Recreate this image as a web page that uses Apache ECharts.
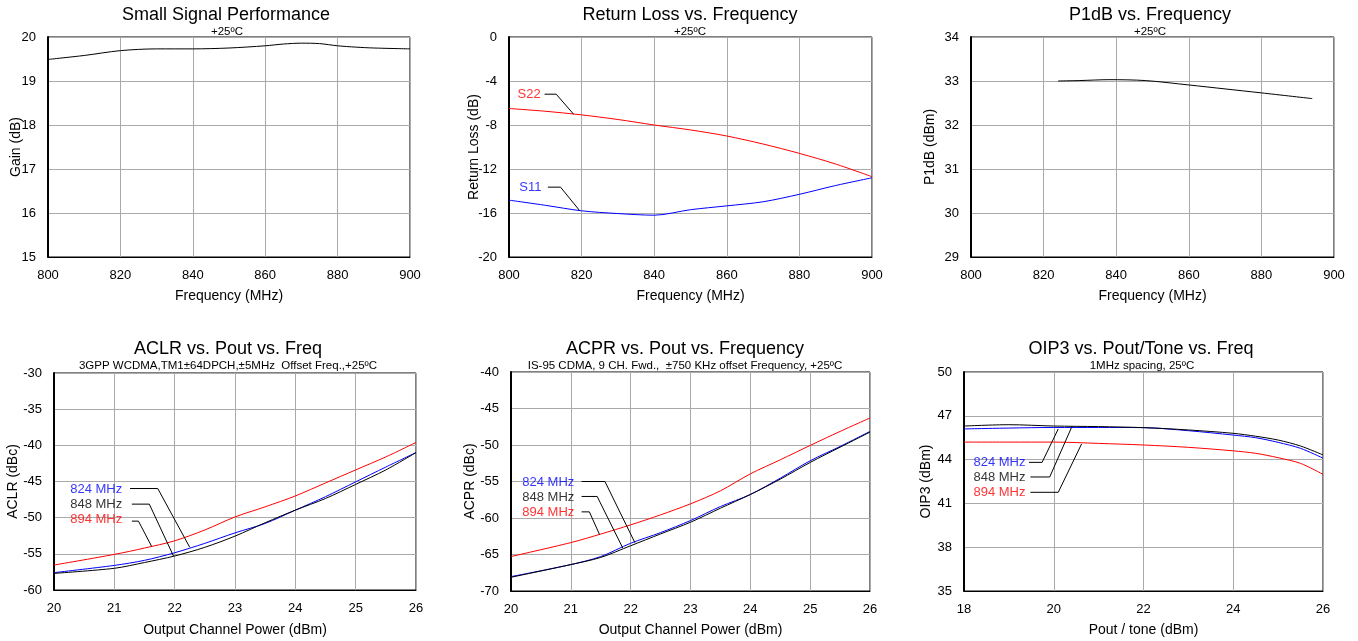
<!DOCTYPE html>
<html>
<head>
<meta charset="utf-8">
<title>Amplifier performance</title>
<script src="https://cdn.jsdelivr.net/npm/echarts@6/dist/echarts.min.js"></script>
<style>
    html, body { margin: 0; padding: 0; background: #fff; }
    #main { width: 1358px; height: 641px; }
</style>
</head>
<body>
<div id="main"></div>
<script>
// --- data ---
var gainFreq = [800, 810, 820, 830, 840, 850, 860, 865, 870, 875, 880, 885, 890, 900];
var gainDb = [19.49, 19.58, 19.69, 19.73, 19.73, 19.75, 19.8, 19.84, 19.86, 19.85, 19.8, 19.77, 19.75, 19.73];

var rlFreq = [800, 810, 820, 830, 840, 850, 860, 870, 880, 890, 900];
var s22 = [-6.5, -6.75, -7.08, -7.5, -8.0, -8.45, -9.0, -9.73, -10.58, -11.55, -12.7];
var s11 = [-14.83, -15.3, -15.8, -16.05, -16.2, -15.7, -15.35, -14.98, -14.3, -13.5, -12.8];

var p1Freq = [824, 830, 838, 848, 860, 870, 880, 894];
var p1dB = [33.0, 33.01, 33.03, 33.01, 32.91, 32.82, 32.73, 32.6];

var pout = [20, 21, 21.5, 22, 22.5, 23, 23.5, 24, 24.5, 25, 25.5, 26];
var aclr824 = [-57.6, -56.6, -55.9, -54.85, -53.55, -52.1, -50.8, -48.96, -47.1, -45.05, -43.0, -41.0];
var aclr848 = [-57.7, -57.0, -56.2, -55.3, -54.1, -52.55, -50.7, -48.96, -47.35, -45.4, -43.4, -41.0];
var aclr894 = [-56.55, -55.08, -54.2, -53.2, -51.7, -49.9, -48.5, -47.0, -45.2, -43.4, -41.6, -39.6];

var acpr824 = [-68.03, -66.38, -65.28, -63.46, -62.0, -60.35, -58.43, -56.78, -54.54, -52.16, -50.2, -48.14];
var acpr848 = [-68.12, -66.38, -65.4, -63.8, -62.18, -60.58, -58.66, -56.78, -54.68, -52.39, -50.3, -48.23];
var acpr894 = [-65.28, -63.37, -62.2, -60.94, -59.57, -58.06, -56.28, -53.95, -52.03, -50.06, -48.14, -46.3];

var tone = [18, 19, 20, 21, 22, 23, 24, 24.5, 25, 25.5, 26];
var oip824 = [46.1, 46.16, 46.2, 46.2, 46.19, 45.98, 45.68, 45.5, 45.18, 44.77, 44.1];
var oip848 = [46.3, 46.39, 46.3, 46.26, 46.19, 46.03, 45.8, 45.6, 45.34, 44.93, 44.32];
var oip894 = [45.2, 45.2, 45.2, 45.11, 45.0, 44.84, 44.6, 44.43, 44.13, 43.74, 42.99];

var freqNames = ['824 MHz', '848 MHz', '894 MHz'];

// callout labels and leader lines, in data units of each panel
var rlLabels = [['S22', 802.2, -5.26], ['S11', 802.7, -13.7]];
var rlLeaders = [
    [[809.8, -5.2], [813, -5.2], [817.8, -7.02]],
    [[810.7, -13.65], [814.2, -13.65], [819.5, -15.8]]
];
var aclrLabels = [[20.26, -46.1], [20.26, -48.13], [20.26, -50.25]];
var aclrLeaders = [
    [[21.26, -45.97], [21.72, -45.97], [22.25, -54.1]],
    [[21.29, -48.13], [21.58, -48.13], [21.98, -55.3]],
    [[21.29, -50.48], [21.4, -50.48], [21.62, -54.0]]
];
var acprLabels = [[20.18, -55.13], [20.18, -57.15], [20.18, -59.25]];
var acprLeaders = [
    [[21.18, -55.0], [21.57, -55.0], [22.07, -63.37]],
    [[21.18, -57.05], [21.44, -57.05], [21.87, -64.14]],
    [[21.18, -59.16], [21.31, -59.16], [21.48, -62.27]]
];
var oipLabels = [[18.2, 43.79], [18.2, 42.79], [18.2, 41.74]];
var oipLeaders = [
    [[19.45, 43.81], [19.74, 43.81], [20.1, 46.1]],
    [[19.48, 42.81], [19.91, 42.81], [20.41, 46.3]],
    [[19.48, 41.76], [20.1, 41.76], [20.62, 45.07]]
];

var RED = '#ff0000', BLUE = '#0000ff', BLACK = '#000000';
var FONT = '"Liberation Sans", Arial, sans-serif';

function zip(xs, ys) {
    return xs.map(function (x, i) { return [x, ys[i]]; });
}

function curve(idx, xs, ys, color) {
    return {
        type: 'line', xAxisIndex: idx, yAxisIndex: idx,
        data: zip(xs, ys), symbol: 'none', smooth: 0.3,
        lineStyle: { color: color, width: 1 }, silent: true, z: 3
    };
}

function leader(idx, pts) {
    return {
        type: 'line', xAxisIndex: idx, yAxisIndex: idx,
        data: pts, symbol: 'none',
        lineStyle: { color: BLACK, width: 1 }, silent: true, z: 4
    };
}

function callout(idx, text, x, y, color) {
    return {
        type: 'scatter', xAxisIndex: idx, yAxisIndex: idx,
        data: [{ value: [x, y], name: text }],
        symbolSize: 1, itemStyle: { color: 'rgba(0,0,0,0)' }, silent: true, z: 5,
        label: {
            show: true, position: 'right', distance: 0, formatter: '{b}',
            color: color, fontSize: 13, fontFamily: FONT
        }
    };
}

var grids = [
    { left: 48, top: 37, width: 362, height: 220 },
    { left: 509, top: 37, width: 363, height: 220 },
    { left: 971, top: 37, width: 363, height: 220 },
    { left: 54, top: 373, width: 362, height: 217 },
    { left: 511, top: 372, width: 359, height: 219 },
    { left: 964, top: 372, width: 359, height: 219 }
];
grids.forEach(function (g) {
    g.show = true; g.borderColor = BLACK; g.borderWidth = 1; g.containLabel = false;
});

// [min, max, interval, name, nameGap]
var xSpec = [
    [800, 900, 20, 'Frequency (MHz)', 32],
    [800, 900, 20, 'Frequency (MHz)', 32],
    [800, 900, 20, 'Frequency (MHz)', 32],
    [20, 26, 1, 'Output Channel Power (dBm)', 33],
    [20, 26, 1, 'Output Channel Power (dBm)', 32],
    [18, 26, 2, 'Pout / tone (dBm)', 32]
];
var ySpec = [
    [15, 20, 1, 'Gain (dB)', 25],
    [-20, 0, 4, 'Return Loss (dB)', 28],
    [29, 34, 1, 'P1dB (dBm)', 34],
    [-60, -30, 5, 'ACLR (dBc)', 34],
    [-70, -40, 5, 'ACPR (dBc)', 34],
    [35, 50, 3, 'OIP3 (dBm)', 31]
];

function axisOf(spec, idx, isY) {
    return {
        type: 'value', gridIndex: idx,
        min: spec[0], max: spec[1], interval: spec[2],
        name: spec[3], nameLocation: 'middle', nameGap: spec[4],
        nameMoveOverlap: false,
        nameTextStyle: { color: BLACK, fontSize: 14, fontFamily: FONT },
        axisLine: { show: true, onZero: false, lineStyle: { color: BLACK, width: isY ? 2 : 1 } },
        axisTick: { show: false },
        axisLabel: { color: BLACK, fontSize: 13, fontFamily: FONT, margin: 12 },
        splitLine: { show: true, lineStyle: { color: '#aaaaaa', width: 1 } }
    };
}

// [text, centerX, top, size]
var heads = [
    ['Small Signal Performance', 226, 6, 18], ['+25ºC', 227, 26, 11.5],
    ['Return Loss vs. Frequency', 690, 6, 18], ['+25ºC', 690, 26, 11.5],
    ['P1dB vs. Frequency', 1150, 6, 18], ['+25ºC', 1150, 26, 11.5],
    ['ACLR vs. Pout vs. Freq', 228, 340, 18], ['3GPP WCDMA,TM1±64DPCH,±5MHz  Offset Freq.,+25ºC', 228, 360, 11.5],
    ['ACPR vs. Pout vs. Frequency', 685, 340, 18], ['IS-95 CDMA, 9 CH. Fwd.,  ±750 KHz offset Frequency, +25ºC', 685, 360, 11.5],
    ['OIP3 vs. Pout/Tone vs. Freq', 1141, 340, 18], ['1MHz spacing, 25ºC', 1142, 360, 11.5]
];

var series = [];
series.push(curve(0, gainFreq, gainDb, BLACK));

series.push(curve(1, rlFreq, s22, RED));
series.push(curve(1, rlFreq, s11, BLUE));
series.push(leader(1, rlLeaders[0]));
series.push(leader(1, rlLeaders[1]));
series.push(callout(1, rlLabels[0][0], rlLabels[0][1], rlLabels[0][2], RED));
series.push(callout(1, rlLabels[1][0], rlLabels[1][1], rlLabels[1][2], BLUE));

series.push(curve(2, p1Freq, p1dB, BLACK));

var colors3 = [BLUE, BLACK, RED];
[[3, pout, [aclr824, aclr848, aclr894], aclrLabels, aclrLeaders],
 [4, pout, [acpr824, acpr848, acpr894], acprLabels, acprLeaders],
 [5, tone, [oip824, oip848, oip894], oipLabels, oipLeaders]].forEach(function (p) {
    var idx = p[0];
    series.push(curve(idx, p[1], p[2][0], BLUE));
    series.push(curve(idx, p[1], p[2][2], RED));
    series.push(curve(idx, p[1], p[2][1], BLACK));
    for (var i = 0; i < 3; i++) {
        series.push(leader(idx, p[4][i]));
        series.push(callout(idx, freqNames[i], p[3][i][0], p[3][i][1], colors3[i]));
    }
});

var myChart = echarts.init(document.getElementById('main'), null, { renderer: 'canvas' });
var option = {
    animation: false,
    backgroundColor: '#ffffff',
    textStyle: { fontFamily: FONT },
    title: heads.map(function (h) {
        return {
            text: h[0], left: h[1], top: h[2], padding: 0,
            textAlign: 'center', textVerticalAlign: 'top',
            textStyle: { color: BLACK, fontSize: h[3], fontWeight: 'normal', fontFamily: FONT }
        };
    }),
    grid: grids,
    xAxis: xSpec.map(function (s, i) { return axisOf(s, i, false); }),
    yAxis: ySpec.map(function (s, i) { return axisOf(s, i, true); }),
    series: series
};
myChart.setOption(option);
</script>
</body>
</html>
